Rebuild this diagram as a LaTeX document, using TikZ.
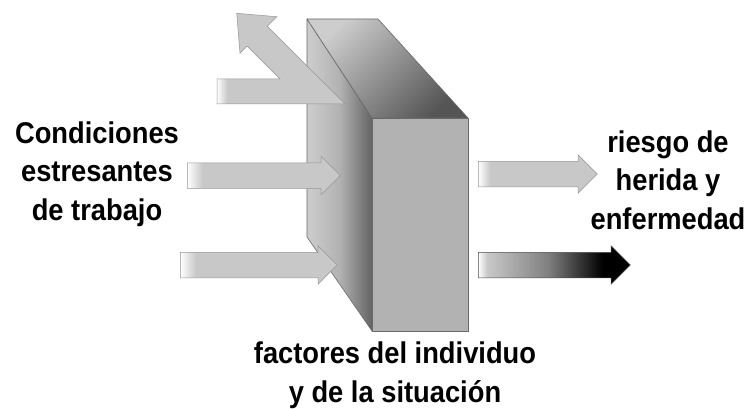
\documentclass[tikz,border=0pt]{standalone}
\usepackage{fontspec}
\setmainfont{Liberation Sans}[FakeStretch=0.91]
\usetikzlibrary{shapes.arrows, positioning}
\definecolor{arrowlight}{RGB}{200,200,200}
\definecolor{arrowedge}{RGB}{150,150,150}
\definecolor{walledge}{RGB}{105,105,105}
\definecolor{frontgray}{RGB}{178,178,178}
\definecolor{sidelight}{RGB}{205,205,205}
\definecolor{sidemid}{RGB}{178,178,178}
\definecolor{sidedark}{RGB}{100,100,100}
\definecolor{toplight}{RGB}{205,205,205}
\definecolor{topdark}{RGB}{85,85,85}
\pgfdeclarehorizontalshading{tailfade}{100bp}{color(0bp)=(white); color(25bp)=(white); color(30bp)=(arrowlight); color(100bp)=(arrowlight)}
\pgfdeclarehorizontalshading{shortfade}{100bp}{color(0bp)=(white); color(25bp)=(white); color(29bp)=(arrowlight); color(100bp)=(arrowlight)}
\pgfdeclarehorizontalshading{darkfade}{100bp}{color(0bp)=(white); color(25bp)=(white); color(28bp)=(arrowlight); color(48bp)=(gray); color(66bp)=(black); color(100bp)=(black)}
\tikzset{
  blockarrow/.style={
    single arrow, shade, shading=tailfade, draw=arrowedge, line width=0.5pt,
    inner xsep=0pt, inner ysep=12.5pt, single arrow head extend=6.5pt, anchor=tail
  },
  darkarrow/.style={
    blockarrow, shading=darkfade, draw=black!70
  },
  wallface/.style={
    draw=walledge, line width=0.6pt, line join=round
  },
  caption/.style={
    font=\bfseries\fontsize{30}{38.5}\selectfont, align=center, inner sep=0pt, anchor=base
  }
}

\begin{document}
\begin{tikzpicture}[x=1pt, y=-1pt]
\useasboundingbox (0,0) rectangle (752,409);

% the wall
\shade[wallface, left color=sidelight, right color=sidedark, middle color=sidemid]
  (307,19) -- (372,118) -- (372,331) -- (307,237) -- cycle;
\shade[wallface, top color=toplight, bottom color=topdark, shading angle=45]
  (307,19) -- (378,19) -- (468,118) -- (372,118) -- cycle;
\filldraw[wallface, fill=frontgray] (372,118) rectangle (468,331);

% deflected arrow
\shade[shading=shortfade, draw=arrowedge, line width=0.5pt]
  (217,79) -- (280,79) -- (247.1,46.1) -- (240,53.3) -- (236.7,13.3)
  -- (276.7,16.7) -- (267.2,26.2) -- (345,104) -- (217,104) -- cycle;

\node[blockarrow, minimum height=153pt] (midin) at (187,175.5) {};
\node[blockarrow, minimum height=157pt] (lowin) at (180,265) {};
\node[blockarrow, minimum height=119pt] (riskout) at (478,174) {};
\node[darkarrow, minimum height=152pt] (harmout) at (478,265) {};

% base is the last line
\node[caption] (conditions) at (97,220) {Condiciones\\estresantes\\de trabajo};
\node[caption] (risk) at (668,229) {riesgo de\\herida y\\enfermedad};
\node[caption] (factors) at (395,402) {factores del individuo\\y de la situación};

\end{tikzpicture}
\end{document}
